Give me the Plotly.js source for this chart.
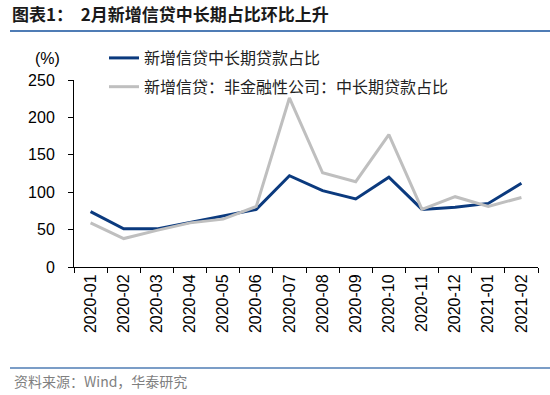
<!DOCTYPE html>
<html>
<head>
<meta charset="utf-8">
<script src="https://cdn.plot.ly/plotly-3.0.1.min.js"></script>
<style>html,body{margin:0;padding:0;background:#fff;}#chart{width:550px;height:395px;}</style>
</head>
<body>
<div id="chart"></div>
<script>
const months = ["2020-01","2020-02","2020-03","2020-04","2020-05","2020-06","2020-07","2020-08","2020-09","2020-10","2020-11","2020-12","2021-01","2021-02"];
const seriesNames = ["新增信贷中长期贷款占比", "新增信贷：非金融性公司：中长期贷款占比"];
const totalShare = [74, 51, 51, 60, 68, 77, 122, 102, 91, 120, 77, 80, 85, 112];
const corpShare = [59, 38, 49, 59, 64, 81, 226, 126, 114, 177, 77, 94, 81, 93];
const yTicks = [0, 50, 100, 150, 200, 250];

const W = 550, H = 395, L = 74, R = 12, T = 80, B = 128;
const pw = W - L - R, ph = H - T - B;
const px = x => (x - L) / pw;
const py = y => (H - B - y) / ph;

const cjk = '"Noto Sans CJK SC", "Noto Sans", sans-serif';
const arial = '"Liberation Sans", Arial, sans-serif';

const traces = [
  {x: months, y: totalShare, name: seriesNames[0], type: 'scatter', mode: 'lines',
   line: {color: '#0B3A7E', width: 3}, legendgroup: 'a'},
  {x: months, y: corpShare, name: seriesNames[1], type: 'scatter', mode: 'lines',
   line: {color: '#BFBFBF', width: 3}, legendgroup: 'b'}
];

const layout = {
  width: W, height: H,
  margin: {l: L, r: R, t: T, b: B, pad: 0},
  paper_bgcolor: '#fff', plot_bgcolor: '#fff',
  title: {text: '<b>图表1：  2月新增信贷中长期占比环比上升</b>', xref: 'container', yref: 'container',
          x: 12 / W, xanchor: 'left', y: 1 - 15 / H, yanchor: 'middle',
          font: {family: cjk, size: 17, color: '#1a1a1a'}},
  showlegend: true,
  legend: {x: px(104), xanchor: 'left', y: py(41), yanchor: 'top', bgcolor: 'rgba(0,0,0,0)',
           traceorder: 'grouped', tracegroupgap: 5,
           font: {family: cjk, size: 16, color: '#222'}},
  xaxis: {type: 'category', range: [-0.5, 13.5], showline: true, linecolor: '#000', linewidth: 1,
          ticks: 'outside', tickson: 'boundaries', ticklen: 5, tickcolor: '#000',
          tickangle: -90, showgrid: false, zeroline: false,
          tickfont: {family: arial, size: 16, color: '#000'}},
  yaxis: {range: [0, 250], tickvals: yTicks, showline: true, linecolor: '#000', linewidth: 1,
          ticks: 'outside', ticklen: 5, tickcolor: '#000', showgrid: false, zeroline: false,
          ticklabelstandoff: 10,
          tickfont: {family: arial, size: 16, color: '#000'}},
  shapes: [
    {type: 'line', xref: 'paper', yref: 'paper', x0: px(10), x1: px(550), y0: py(31), y1: py(31),
     line: {color: '#4F7CB5', width: 2}},
    {type: 'line', xref: 'paper', yref: 'paper', x0: px(10), x1: px(550), y0: py(368), y1: py(368),
     line: {color: '#4F7CB5', width: 1.5}}
  ],
  annotations: [
    {text: '(%)', xref: 'paper', yref: 'paper', x: px(47.5), y: py(58), xanchor: 'center', yanchor: 'middle',
     showarrow: false, font: {family: arial, size: 16, color: '#000'}},
    {text: '资料来源：Wind，华泰研究', xref: 'paper', yref: 'paper', x: px(12), y: py(381), xanchor: 'left', yanchor: 'middle',
     showarrow: false, font: {family: cjk, size: 14, color: '#7F7F7F'}}
  ]
};

Plotly.newPlot('chart', traces, layout, {staticPlot: true, displayModeBar: false});
</script>
</body>
</html>
